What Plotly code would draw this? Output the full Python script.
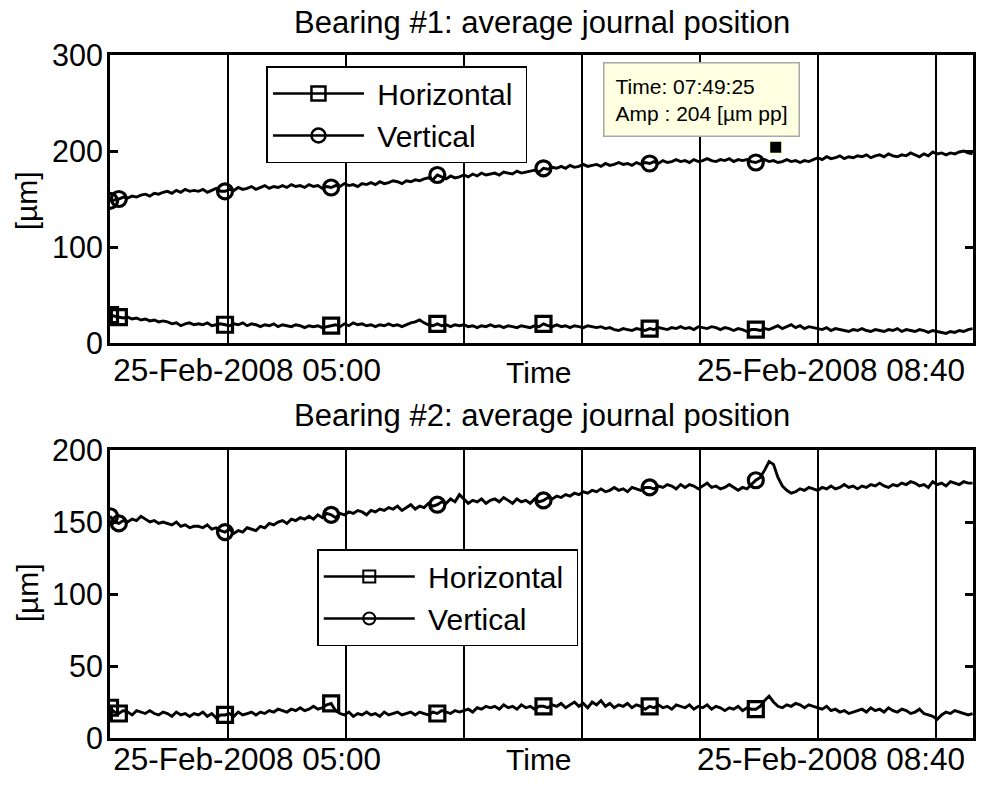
import plotly.graph_objects as go
from datetime import datetime, timedelta

# ---------------- data ----------------
t_start = datetime(2008, 2, 25, 4, 8, 20)
sample_step_s = 100

v1 = [148, 149, 150, 152, 151, 153, 152, 154, 155, 153,
      156, 155, 157, 158, 156, 159, 157, 160, 158, 159,
      158, 160, 157, 159, 161, 158, 158, 160, 159, 162,
      160, 161, 163, 160, 162, 164, 161, 163, 162, 164,
      162, 165, 163, 164, 162, 165, 163, 164, 161, 163,
      162, 164, 163, 166, 164, 165, 163, 166, 165, 167,
      165, 168, 166, 167, 169, 168, 166, 169, 168, 170,
      169, 171, 172, 170, 175, 173, 171, 174, 172, 173,
      175, 173, 176, 174, 177, 175, 176, 177, 175, 178,
      177, 176, 179, 177, 178, 179, 180, 178, 182, 181,
      183, 182, 184, 182, 185, 183, 184, 186, 184, 185,
      186, 184, 187, 185, 186, 188, 186, 187, 185, 188,
      186, 188, 187, 189, 187, 190, 188, 189, 191, 189,
      190, 188, 191, 189, 190, 192, 190, 189, 191, 190,
      192, 189, 191, 190, 191, 189, 188, 190, 191, 189,
      190, 188, 189, 191, 189, 190, 188, 190, 189, 191,
      193, 191, 194, 192, 193, 195, 192, 194, 193, 195,
      194, 196, 193, 195, 196, 194, 197, 195, 194, 196,
      195, 198, 196, 194, 197, 195, 199, 197, 198, 196,
      198, 197, 199, 200, 198, 197]
h1 = [29, 28, 27, 26, 27, 25, 26, 24, 25, 23,
      24, 22, 23, 22, 20, 21, 18, 20, 21, 19,
      20, 19, 21, 18, 19, 20, 19, 18, 20, 19,
      21, 18, 20, 19, 17, 19, 18, 20, 17, 19,
      18, 17, 19, 18, 16, 18, 17, 18, 16, 17,
      18, 19, 17, 20, 18, 21, 19, 20, 18, 19,
      17, 19, 18, 20, 18, 19, 17, 19, 21, 22,
      24, 21, 19, 18, 20, 18, 19, 17, 19, 18,
      19, 17, 18, 16, 18, 17, 19, 17, 18, 16,
      18, 17, 16, 18, 17, 16, 18, 17, 20, 18,
      17, 19, 17, 18, 16, 18, 17, 16, 18, 17,
      16, 17, 15, 16, 14, 13, 15, 14, 13, 15,
      14, 13, 15, 14, 16, 15, 14, 16, 15, 17,
      15, 16, 14, 17, 16, 15, 17, 16, 14, 16,
      15, 13, 15, 14, 12, 14, 14, 13, 15, 14,
      16, 18, 15, 17, 19, 16, 18, 15, 17, 16,
      15, 14, 16, 13, 15, 14, 13, 12, 14, 13,
      15, 13, 12, 14, 13, 12, 14, 13, 15, 12,
      14, 13, 12, 14, 13, 11, 13, 12, 11, 10,
      12, 11, 13, 12, 14, 15]
v2 = [154, 150, 149, 151, 150, 152, 151, 154, 152, 150,
      151, 149, 150, 149, 148, 150, 147, 148, 146, 147,
      147, 146, 148, 145, 146, 144, 143, 145, 142, 144,
      143, 146, 145, 144, 147, 146, 149, 148, 150, 151,
      149, 152, 151, 153, 152, 154, 152, 155, 153, 156,
      155, 153, 156, 155, 157, 156, 158, 157, 155, 158,
      157, 159, 158, 160, 159, 161, 158, 160, 162, 159,
      161, 160, 163, 161, 162, 164, 163, 166, 164, 169,
      166, 163, 165, 164, 166, 163, 165, 166, 164, 167,
      165, 163, 166, 164, 165, 163, 166, 164, 165, 167,
      166, 168, 167, 169, 168, 170, 169, 171, 170, 172,
      171, 173, 171, 172, 174, 172, 173, 171, 174, 173,
      172, 174, 174, 173, 175, 174, 176, 175, 173, 176,
      174, 176, 175, 173, 175, 177, 174, 175, 173, 174,
      176, 174, 172, 174, 173, 176, 179, 181, 186, 192,
      190, 181, 175, 172, 170, 171, 173, 172, 174, 173,
      172, 174, 173, 175, 173, 174, 176, 174, 175, 173,
      175, 174, 176, 175, 177, 175, 174, 176, 175, 177,
      176, 178, 177, 175, 176, 174, 178, 176, 177, 175,
      178, 177, 176, 178, 177, 177]
h2 = [21, 18, 17, 19, 18, 16, 19, 18, 17, 19,
      17, 16, 18, 17, 15, 18, 16, 17, 15, 17,
      16, 18, 15, 17, 14, 16, 16, 17, 15, 18,
      16, 17, 18, 16, 18, 17, 19, 18, 20, 19,
      18, 20, 19, 21, 19, 20, 22, 20, 21, 23,
      24, 19, 17, 16, 18, 15, 17, 16, 18, 16,
      17, 15, 18, 16, 17, 18, 16, 17, 18, 16,
      18, 17, 16, 18, 17, 19, 18, 17, 19, 18,
      19, 20, 18, 21, 20, 22, 21, 22, 20, 23,
      21, 22, 20, 23, 21, 22, 20, 22, 22, 21,
      23, 22, 24, 21, 23, 25, 22, 24, 21, 25,
      23, 26, 22, 24, 21, 23, 22, 24, 21, 23,
      22, 20, 22, 21, 23, 21, 22, 20, 23, 22,
      21, 23, 20, 22, 21, 23, 20, 22, 21, 19,
      21, 20, 22, 19, 21, 20, 20, 22, 26, 29,
      25, 22, 21, 23, 22, 24, 23, 21, 23, 22,
      21, 20, 22, 19, 20, 18, 19, 17, 18, 19,
      20, 18, 21, 19, 20, 18, 21, 19, 18, 20,
      19, 17, 18, 20, 17, 16, 15, 13, 16, 18,
      17, 19, 18, 17, 16, 17]
marker_idx = [0, 2, 26, 50, 74, 98, 122, 146]

series_names = ["Horizontal", "Vertical"]
titles = ["Bearing #1: average journal position", "Bearing #2: average journal position"]
x_range = ["2008-02-25 04:08:20", "2008-02-25 09:33:30"]
xtick_vals = ["2008-02-25 05:00:00", "2008-02-25 08:40:00"]
xtick_text = ["25-Feb-2008 05:00", "25-Feb-2008 08:40"]
grid_vals = ["2008-02-25 04:52:47", "2008-02-25 05:37:14", "2008-02-25 06:21:41", "2008-02-25 07:06:08",
             "2008-02-25 07:50:35", "2008-02-25 08:35:02", "2008-02-25 09:19:29"]
y1_ticks = [0, 100, 200, 300]
y2_ticks = [0, 50, 100, 150, 200]
tip_time = datetime(2008, 2, 25, 8, 19, 10)
tip_amp = 204
tip_text = "Time: 07:49:25<br>Amp : 204 [µm pp]"


def times(n):
    return [t_start + timedelta(seconds=sample_step_s * k) for k in range(n)]


FONT = "Liberation Sans, Arial, sans-serif"
NB = "\u00a0"
fig = go.Figure()

panels = [(h1, v1, "x", "y", "legend", 14, 2.5), (h2, v2, "x2", "y2", "legend2", 12, 2)]
for h, v, xa, ya, lg, lsize, lw in panels:
    for vals, sym in ((h, "square-open"), (v, "circle-open")):
        xs = times(len(vals))
        fig.add_trace(go.Scatter(x=xs, y=vals, mode="lines", line=dict(color="black", width=2.9),
                                 xaxis=xa, yaxis=ya, showlegend=False, hoverinfo="skip"))
        fig.add_trace(go.Scatter(x=[xs[i] for i in marker_idx], y=[vals[i] for i in marker_idx],
                                 mode="markers", xaxis=xa, yaxis=ya, showlegend=False,
                                 marker=dict(symbol=sym, size=15, color="black",
                                             line=dict(color="black", width=3.2))))
    for name, sym in zip(series_names, ("square-open", "circle-open")):
        fig.add_trace(go.Scatter(x=[None], y=[None], mode="lines+markers", name=NB + name + NB,
                                 xaxis=xa, yaxis=ya, legend=lg,
                                 line=dict(color="black", width=2.5),
                                 marker=dict(symbol=sym, size=lsize, color="black",
                                             line=dict(color="black", width=lw))))

# data tip marker
fig.add_trace(go.Scatter(x=[tip_time], y=[tip_amp], mode="markers", xaxis="x", yaxis="y", showlegend=False,
                         marker=dict(symbol="square", size=13, color="black",
                                     line=dict(color="#FFFFE1", width=2))))

PLOT_TOP, PLOT_BOT, PLOT_L, PLOT_R = 55, 738, 110, 976
H = PLOT_BOT - PLOT_TOP
W = PLOT_R - PLOT_L


def py(p):
    return (PLOT_BOT - p) / H


def px(p):
    return (p - PLOT_L) / W


def xaxis_common(standoff):
    return dict(type="date", range=x_range, tickmode="array", tickvals=xtick_vals, ticktext=xtick_text,
                showgrid=False, ticks="", showline=True, linecolor="black", linewidth=3, mirror=True,
                zeroline=False, tickfont=dict(size=31.5), ticklabelstandoff=standoff,
                minor=dict(tickmode="array", tickvals=grid_vals, showgrid=True, gridcolor="black",
                           gridwidth=1.5, ticks=""))


yaxis_common = dict(showgrid=False, zeroline=False, showline=True, linecolor="black", linewidth=3,
                    mirror="ticks", ticks="inside", ticklen=8, tickwidth=2.5, tickcolor="black",
                    tickfont=dict(size=30.5), ticklabelstandoff=-2)

legend_common = dict(xanchor="left", yanchor="top", bgcolor="white", bordercolor="black",
                     borderwidth=1.5, font=dict(size=30), itemwidth=91, tracegroupgap=0)

fig.update_layout(
    width=981, height=785,
    margin=dict(l=PLOT_L, r=981 - PLOT_R, t=PLOT_TOP, b=785 - PLOT_BOT, pad=0),
    paper_bgcolor="white", plot_bgcolor="white",
    font=dict(family=FONT, size=30, color="black"),
    xaxis=dict(domain=[0, 1], anchor="y", **xaxis_common(-3)),
    yaxis=dict(domain=[py(343), 1], anchor="x", range=[0, 300], tickvals=y1_ticks, **yaxis_common),
    xaxis2=dict(domain=[0, 1], anchor="y2", **xaxis_common(-9)),
    yaxis2=dict(domain=[0, py(450)], anchor="x2", range=[0, 200], tickvals=y2_ticks, **yaxis_common),
    legend=dict(x=px(267), y=py(66), **legend_common),
    legend2=dict(x=px(318), y=py(549), **legend_common),
    showlegend=True,
)

ann = []
for t, ycen in zip(titles, (22.5, 415)):
    ann.append(dict(text=t, x=0.5, y=py(ycen), xref="paper", yref="paper", showarrow=False,
                    xanchor="center", yanchor="middle", font=dict(size=31)))
for ycen in (373, 759):
    ann.append(dict(text="Time", x=px(540), y=py(ycen), xref="paper", yref="paper", showarrow=False,
                    xanchor="center", yanchor="middle", font=dict(size=30)))
for ycen in (201, 593):
    ann.append(dict(text="[µm]", x=px(27), y=py(ycen), xref="paper", yref="paper", showarrow=False,
                    textangle=-90, xanchor="center", yanchor="middle", font=dict(size=30)))
ann.append(dict(text=tip_text, x=px(605), y=py(62), xref="paper", yref="paper", showarrow=False,
                xanchor="left", yanchor="top", align="left", font=dict(size=21),
                bgcolor="#FFFFE1", bordercolor="#A8A8A8", borderwidth=1.5, borderpad=11))
fig.update_layout(annotations=ann)

fig.write_html("out.html", config={"displayModeBar": False},
               post_script="document.body.style.margin='0px';")
